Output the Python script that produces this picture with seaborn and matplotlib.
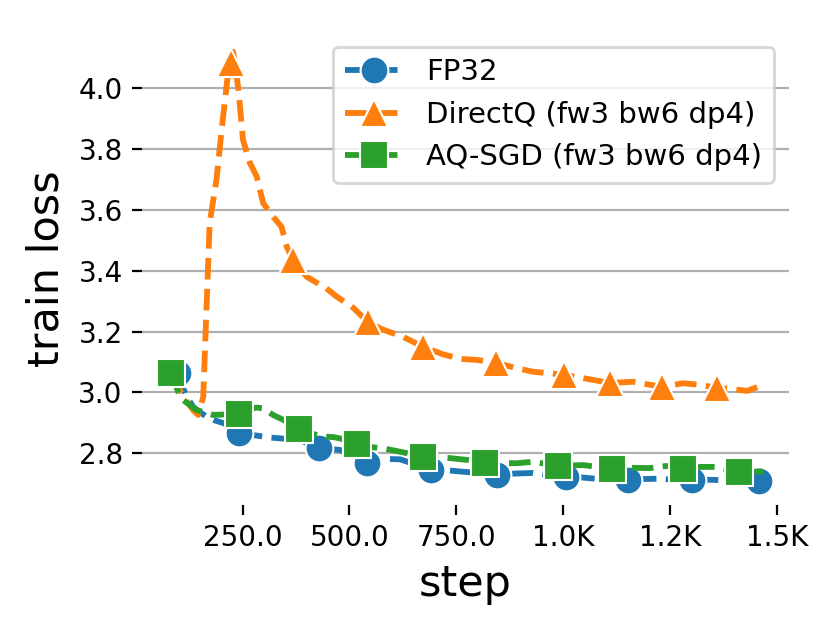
import numpy as np
import pandas as pd
import matplotlib
matplotlib.use("Agg")
import matplotlib.pyplot as plt
import matplotlib.ticker as mticker
import seaborn as sns

# FP32 run
fp32_step = [100, 112, 120, 134, 150, 166, 185, 205, 225, 241, 260, 283, 310, 337, 360,
             384, 405, 429, 455, 477, 510, 542, 565, 587, 618, 650, 690, 720, 758, 800,
             844, 885, 929, 965, 1007, 1045, 1085, 1120, 1152, 1185, 1218, 1260, 1302,
             1330, 1358, 1410, 1458]
fp32_loss = [3.065, 3.01, 2.985, 2.953, 2.935, 2.92, 2.908, 2.899, 2.885, 2.866, 2.862,
             2.858, 2.852, 2.849, 2.846, 2.844, 2.83, 2.816, 2.814, 2.811, 2.79, 2.769,
             2.778, 2.781, 2.78, 2.765, 2.745, 2.745, 2.74, 2.735, 2.729, 2.733, 2.735,
             2.728, 2.723, 2.72, 2.715, 2.713, 2.712, 2.715, 2.716, 2.713, 2.712, 2.713,
             2.712, 2.71, 2.707]
fp32_marks = [100, 241, 429, 542, 690, 844, 1007, 1152, 1302, 1458]

# DirectQ run
dq_step = [82, 103, 120, 134, 146, 158, 162, 173, 189, 201, 216, 223, 228, 240, 251, 267,
           283, 298, 321, 341, 353, 368, 400, 446, 470, 509, 544, 579, 625, 672, 719, 760,
           797, 843, 890, 929, 1002, 1046, 1110, 1163, 1231, 1280, 1319, 1360, 1400, 1430,
           1459]
dq_loss = [3.06, 3.008, 2.97, 2.942, 2.926, 2.985, 3.14, 3.557, 3.70, 3.863, 4.05, 4.084,
           4.12, 4.0, 3.83, 3.755, 3.71, 3.623, 3.578, 3.545, 3.48, 3.435, 3.38, 3.342,
           3.315, 3.278, 3.23, 3.206, 3.183, 3.15, 3.125, 3.11, 3.107, 3.097, 3.08, 3.068,
           3.058, 3.047, 3.031, 3.035, 3.018, 3.03, 3.025, 3.015, 3.01, 3.005, 3.02]
dq_marks = [223, 368, 544, 672, 843, 1002, 1110, 1231, 1360]

# AQ-SGD run
aq_step = [82, 100, 111, 142, 181, 241, 262, 283, 298, 321, 345, 382, 410, 438, 462, 477,
           518, 550, 579, 618, 671, 700, 734, 775, 816, 850, 891, 929, 988, 1046, 1080,
           1113, 1160, 1202, 1241, 1280, 1320, 1358, 1411, 1467]
aq_loss = [3.065, 3.0, 2.975, 2.942, 2.926, 2.929, 2.945, 2.95, 2.948, 2.926, 2.91, 2.879,
           2.865, 2.855, 2.853, 2.849, 2.83, 2.82, 2.816, 2.805, 2.789, 2.787, 2.784, 2.778,
           2.769, 2.768, 2.767, 2.772, 2.758, 2.761, 2.755, 2.747, 2.752, 2.751, 2.758,
           2.747, 2.755, 2.755, 2.738, 2.74]
aq_marks = [82, 241, 382, 518, 671, 816, 988, 1113, 1280, 1411]

series = [
    ("FP32", fp32_step, fp32_loss, fp32_marks, "o", "#1f77b4"),
    ("DirectQ (fw3 bw6 dp4)", dq_step, dq_loss, dq_marks, "^", "#ff7f0e"),
    ("AQ-SGD (fw3 bw6 dp4)", aq_step, aq_loss, aq_marks, "s", "#2ca02c"),
]

fig, ax = plt.subplots(figsize=(831 / 200, 628 / 200), dpi=200)
fig.subplots_adjust(left=0.171, right=0.949, top=0.949, bottom=0.196)

for name, steps, loss, marks, mk, col in series:
    df = pd.DataFrame({"step": steps, "loss": loss})
    idx = [steps.index(s) for s in marks]
    sns.lineplot(data=df, x="step", y="loss", ax=ax, color=col, marker=mk,
                 linestyle="--", linewidth=2.1, markersize=10, markevery=idx,
                 label=name)

ax.set_xlim(15, 1527)
ax.set_ylim(2.63, 4.185)
ax.xaxis.set_major_locator(mticker.MultipleLocator(250))
ax.yaxis.set_major_locator(mticker.MultipleLocator(0.2))


def step_fmt(v, pos):
    if v >= 1000:
        return "{:.1f}K".format(v / 1000)
    return "{:.1f}".format(v)


ax.xaxis.set_major_formatter(mticker.FuncFormatter(step_fmt))
ax.yaxis.set_major_formatter(mticker.FormatStrFormatter("%.1f"))
ax.tick_params(labelsize=10)

ax.yaxis.grid(True, color="#b0b0b0", linewidth=0.8)
ax.xaxis.grid(False)
ax.set_axisbelow(True)
sns.despine(ax=ax, left=True, bottom=True)

ax.set_xlabel("step", fontsize=15.5)
ax.set_ylabel("train loss", fontsize=15.5)
ax.legend(loc="upper right", fontsize=10.5)

fig.savefig("out.png", dpi=200)
